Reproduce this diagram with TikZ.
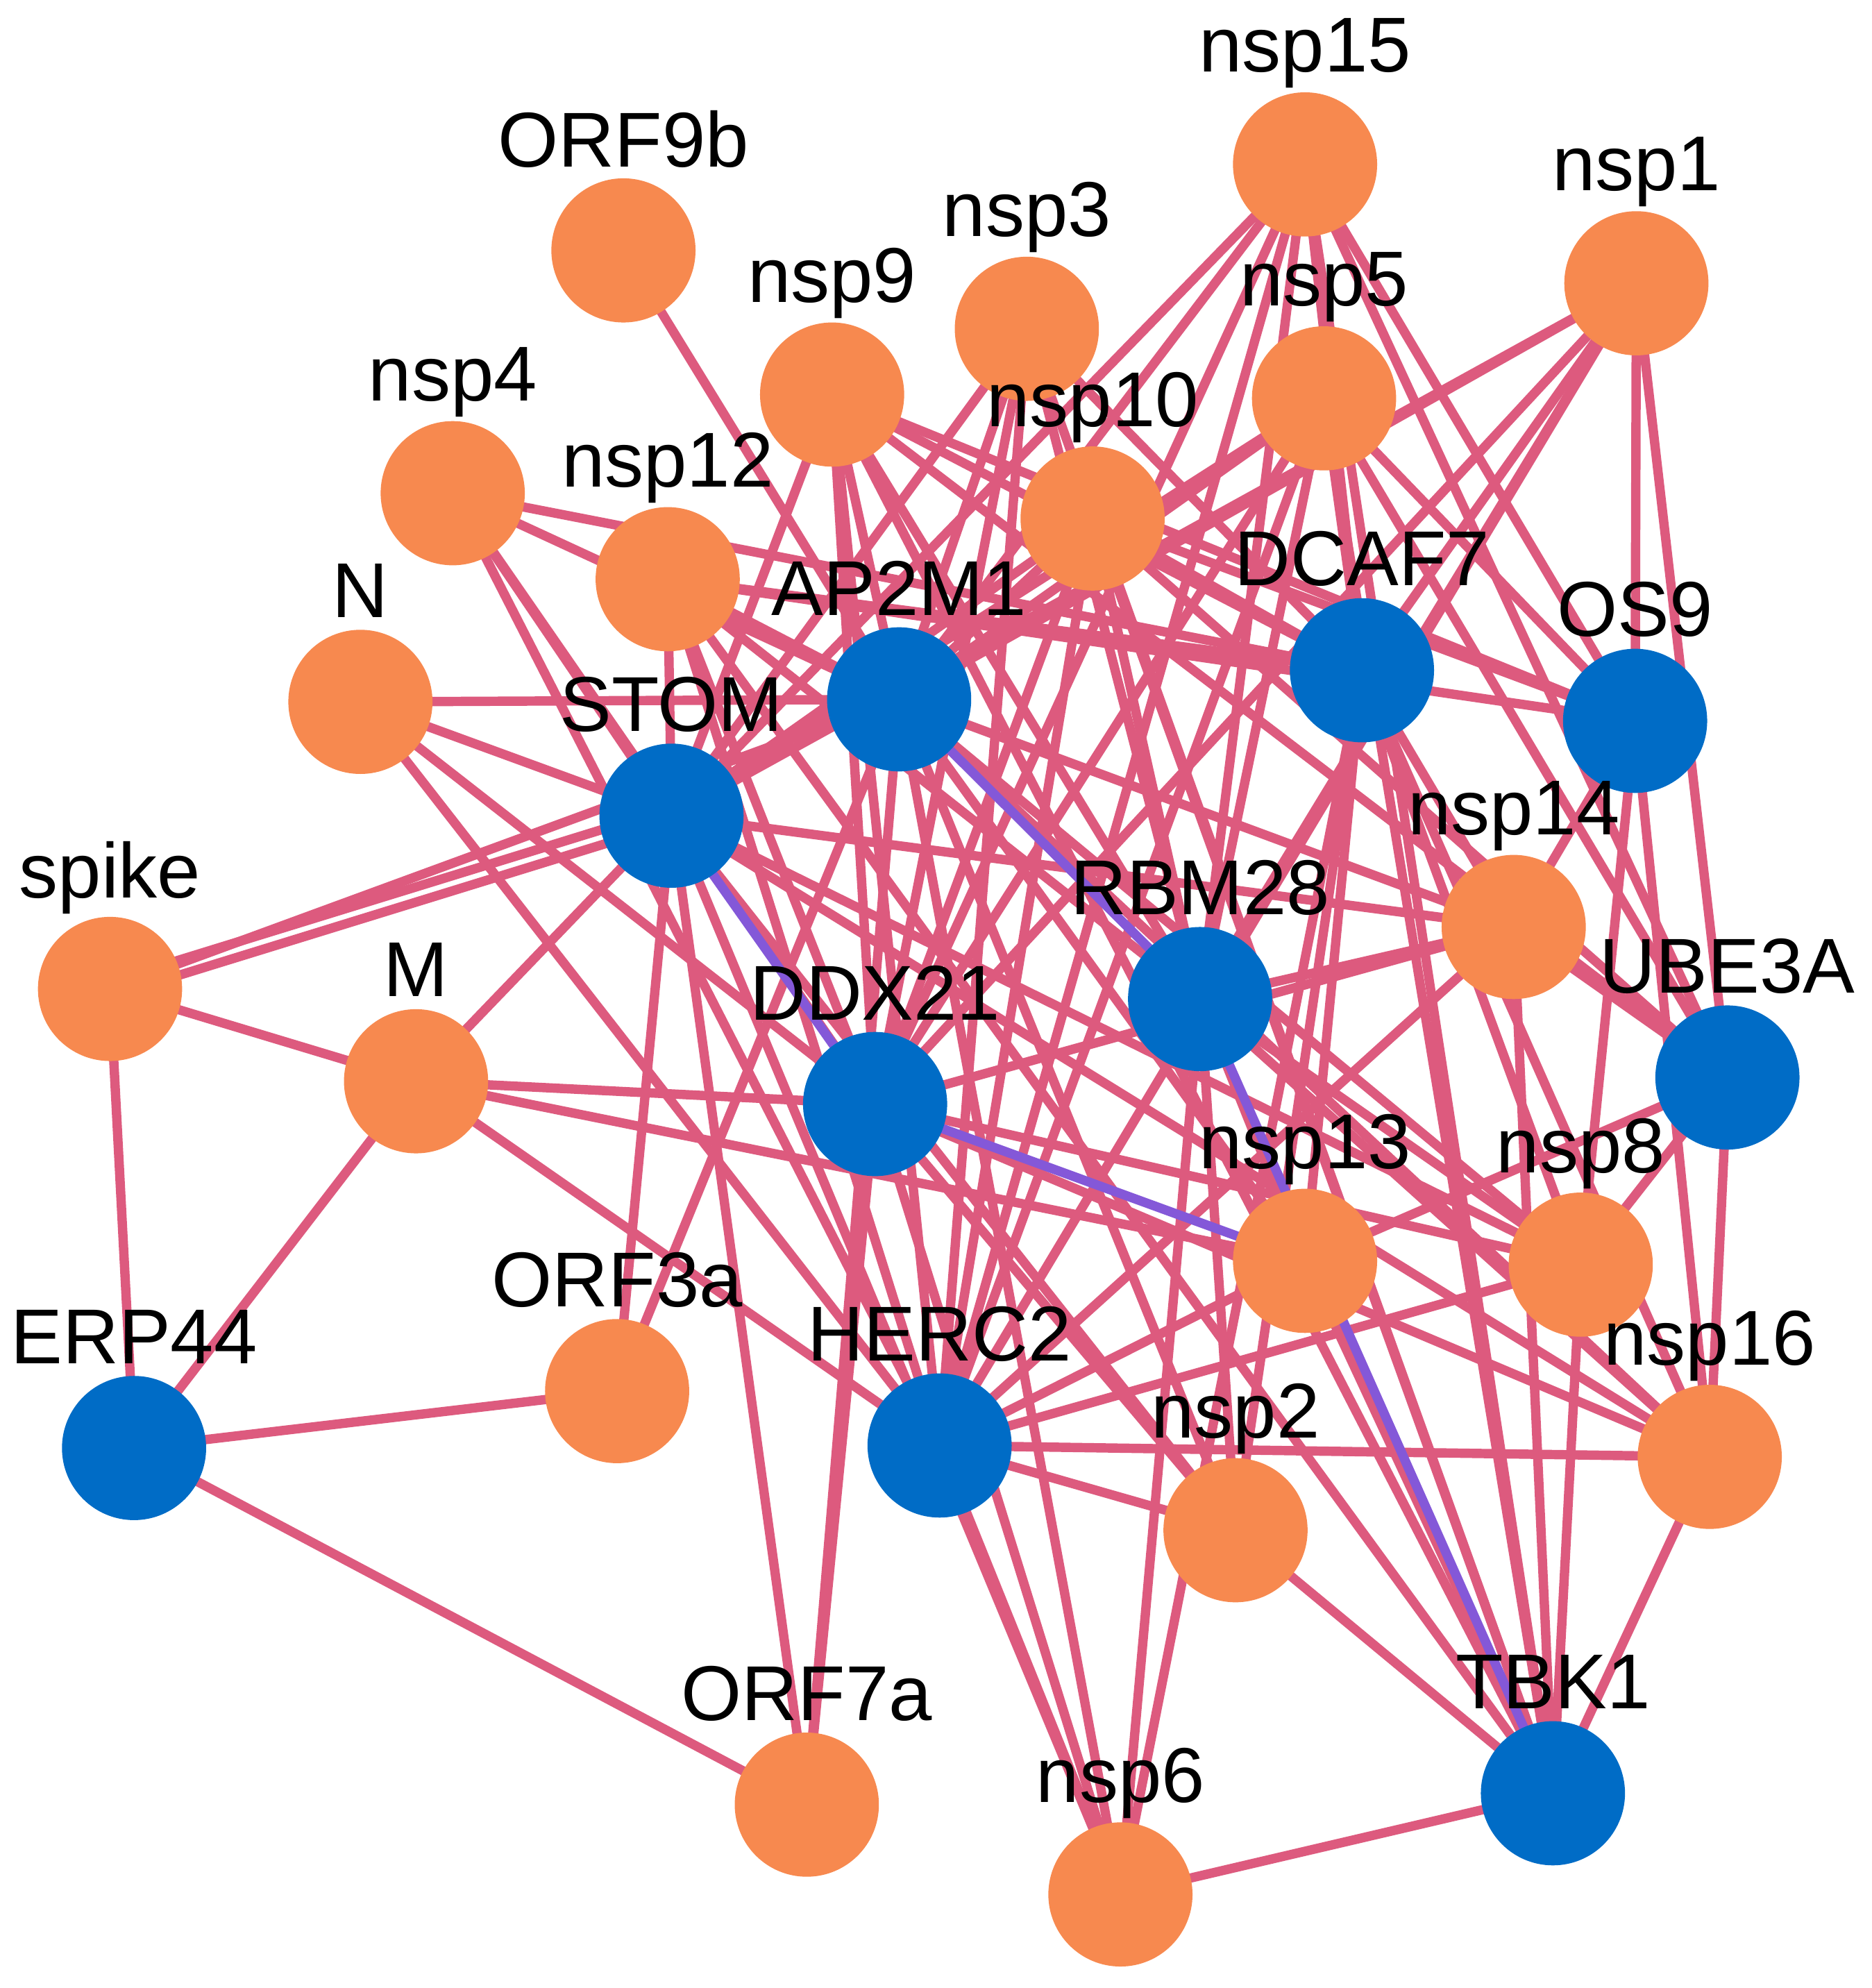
\documentclass[tikz,border=0pt]{standalone}
\usepackage{fontspec}
\setmainfont{Liberation Sans}
\begin{document}
\begin{tikzpicture}[x=0.1mm,y=-0.1mm,
  vir/.style={circle,fill=vorange,minimum size=11.4mm,inner sep=0},
  hum/.style={circle,fill=hblue,minimum size=11.4mm,inner sep=0},
  lab/.style={font=\fontsize{17.5}{17.5}\selectfont},
  ed/.style={draw=epink,line width=2.1pt},
  pe/.style={draw=epurple,line width=2.1pt}]
\definecolor{vorange}{HTML}{F7894F}
\definecolor{hblue}{HTML}{006CC6}
\definecolor{epink}{HTML}{DD5A7E}
\definecolor{epurple}{HTML}{8458D8}
\useasboundingbox (0,0) rectangle (1480,1572);
\foreach \n/\x/\y/\s in {ORF9b/493/198/vir, nsp15/1032/130/vir, nsp1/1294/224/vir, nsp3/812/260/vir,
  nsp9/658/312/vir, nsp5/1047/315/vir, nsp4/358/390/vir, nsp10/864/410/vir, nsp12/528/458/vir,
  N/285/555/vir, AP2M1/711/553/hum, DCAF7/1077/530/hum, OS9/1293/570/hum, STOM/531/645/hum,
  spike/87/782/vir, nsp14/1197/733/vir, RBM28/949/790/hum, M/329/855/vir, UBE3A/1366/852/hum,
  DDX21/692/873/hum, nsp13/1032/997/vir, nsp8/1250/1000/vir, ORF3a/488/1100/vir, ERP44/106/1145/hum,
  HERC2/743/1143/hum, nsp16/1352/1152/vir, nsp2/977/1210/vir, ORF7a/638/1427/vir, TBK1/1228/1418/hum,
  nsp6/886/1498/vir}
  \coordinate (\n) at (\x,\y);
% edges
\foreach \a/\bs in {
 STOM/{nsp4,nsp12,nsp9,nsp3,nsp15,nsp5,nsp10,nsp1,nsp14,nsp8,nsp16,nsp2,nsp6,N,M,ORF3a,ORF7a},
 AP2M1/{nsp4,nsp12,nsp9,nsp3,nsp15,nsp5,nsp10,nsp1,nsp14,nsp13,nsp8,nsp16,nsp2,nsp6,N,ORF9b,ORF3a,ORF7a,spike},
 DDX21/{nsp4,nsp12,nsp9,nsp3,nsp15,nsp5,nsp10,nsp1,nsp14,nsp8,nsp16,nsp2,nsp6,M,N,ORF7a},
 HERC2/{nsp4,nsp12,nsp9,nsp3,nsp15,nsp5,nsp10,nsp1,nsp14,nsp13,nsp8,nsp16,nsp2,nsp6,M},
 RBM28/{nsp9,nsp3,nsp15,nsp5,nsp10,nsp1,nsp14,nsp13,nsp8,nsp16,nsp2,nsp6,nsp12},
 DCAF7/{nsp4,nsp12,nsp9,nsp3,nsp15,nsp5,nsp10,nsp1,nsp14,nsp13,nsp8,nsp16,nsp2,nsp6},
 OS9/{nsp12,nsp9,nsp15,nsp5,nsp10,nsp1,nsp14,nsp8,nsp16},
 UBE3A/{nsp15,nsp5,nsp10,nsp1,nsp14,nsp8,nsp16,nsp13,nsp9},
 TBK1/{nsp12,nsp9,nsp15,nsp5,nsp10,nsp14,nsp13,nsp8,nsp16,nsp2,nsp6,nsp3},
 ERP44/{spike,M,ORF3a,ORF7a}}
 \foreach \b in \bs { \path[ed] (\a) -- (\b); };
\path[ed] ([yshift=-0.6mm]spike) -- ([yshift=-0.6mm]STOM);
\path[ed] ([yshift=0.6mm]spike) -- ([yshift=0.6mm]STOM);
\path[ed] (spike) -- (M);
\path[ed] (M) -- (nsp13);
\path[ed] (N) -- (HERC2);
% purple
\path[pe] (AP2M1) -- (RBM28);
\path[pe] (RBM28) -- (TBK1);
\path[pe] (STOM) -- (DDX21);
\path[pe] (DDX21) -- (nsp13);
% nodes
\foreach \n/\s in {ORF9b/vir, nsp15/vir, nsp1/vir, nsp3/vir, nsp9/vir, nsp5/vir, nsp4/vir, nsp10/vir,
  nsp12/vir, N/vir, AP2M1/hum, DCAF7/hum, OS9/hum, STOM/hum, spike/vir, nsp14/vir, RBM28/hum, M/vir,
  UBE3A/hum, DDX21/hum, nsp13/vir, nsp8/vir, ORF3a/vir, ERP44/hum, HERC2/hum, nsp16/vir, nsp2/vir,
  ORF7a/vir, TBK1/hum, nsp6/vir}
 { \node[\s] (c\n) at (\n) {};
   \node[lab] (l\n) at ([yshift=8.8mm]\n) {\n}; }
\end{tikzpicture}
\end{document}
